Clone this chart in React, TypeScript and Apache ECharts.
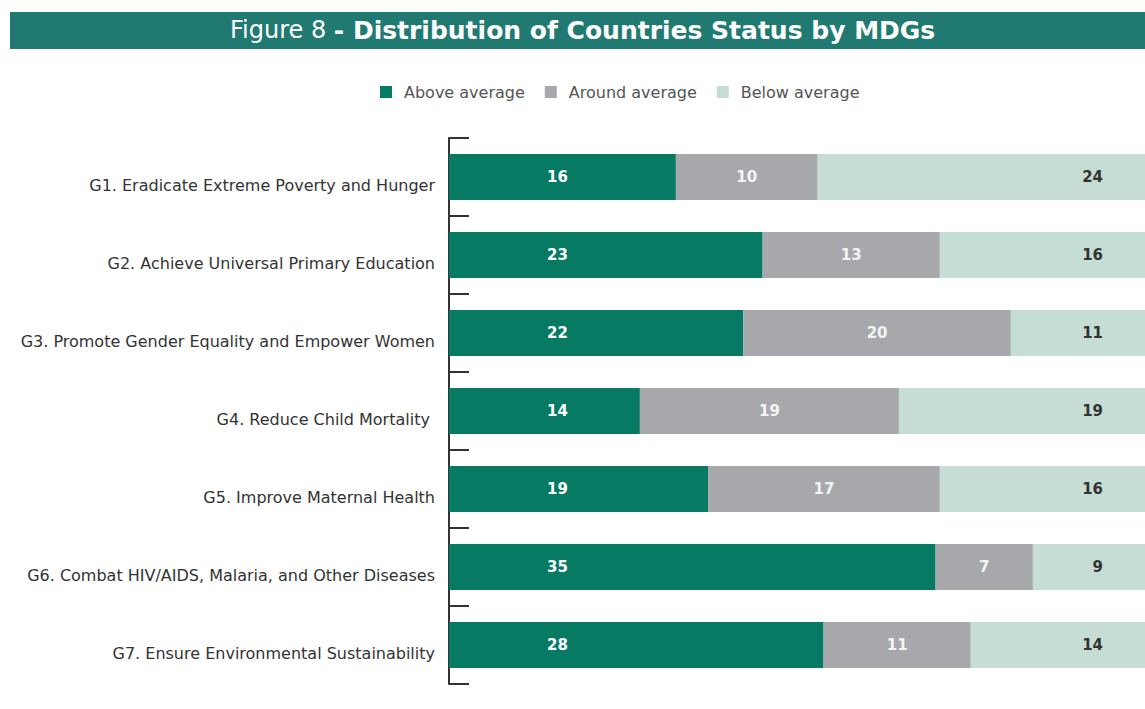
import React, { useEffect, useRef } from "react";
import * as echarts from "echarts";

const categories = [
  "G1. Eradicate Extreme Poverty and Hunger",
  "G2. Achieve Universal Primary Education",
  "G3. Promote Gender Equality and Empower Women",
  "G4. Reduce Child Mortality ",
  "G5. Improve Maternal Health",
  "G6. Combat HIV/AIDS, Malaria, and Other Diseases",
  "G7. Ensure Environmental Sustainability",
];
const seriesNames = ["Above average", "Around average", "Below average"];
const aboveAvg = [16, 23, 22, 14, 19, 35, 28];
const aroundAvg = [10, 13, 20, 19, 17, 7, 11];
const belowAvg = [24, 16, 11, 19, 16, 9, 14];

const COLORS = ["#067a62", "#a7a8ac", "#c5ddd4"];
const FONT = "'DejaVu Sans', 'Liberation Sans', Arial, sans-serif";

export default function App() {
  const ref = useRef<HTMLDivElement>(null);
  useEffect(() => {
    if (!ref.current) return;
    const chart = echarts.init(ref.current, null, { renderer: "svg" });
    const totals = categories.map((_, i) => aboveAvg[i] + aroundAvg[i] + belowAvg[i]);
    const toData = (arr: number[]) =>
      arr.map((v, i) => ({ value: (v / totals[i]) * 100, raw: v }));
    const fmt = (p: any) => String(p.data.raw);
    chart.setOption({
      animation: false,
      textStyle: { fontFamily: FONT },
      graphic: [
        {
          type: "rect",
          shape: { x: 10, y: 12, width: 1150, height: 37 },
          style: { fill: "#207a71" },
          z: 0,
        },
        {
          type: "text",
          x: 230,
          y: 30,
          style: {
            text: "{a|Figure 8 }{b|- Distribution of Countries Status by MDGs}",
            verticalAlign: "middle",
            rich: {
              a: { fontSize: 24, fill: "#ffffff", fontFamily: FONT, fontWeight: "normal" },
              b: { fontSize: 25, fill: "#ffffff", fontFamily: FONT, fontWeight: "bold" },
            },
          },
          z: 1,
        },
      ],
      legend: {
        left: 380,
        top: 84,
        padding: 0,
        itemWidth: 12,
        itemHeight: 12,
        itemGap: 20,
        icon: "rect",
        data: seriesNames,
        textStyle: { fontSize: 16, color: "#555", fontFamily: FONT, padding: [0, 0, 0, 7] },
      },
      grid: { left: 449, top: 138, width: 709, height: 546, containLabel: false },
      xAxis: { type: "value", min: 0, max: 100, show: false },
      yAxis: {
        type: "category",
        data: categories,
        inverse: true,
        axisLine: { show: true, lineStyle: { color: "#333", width: 2 } },
        axisTick: { show: true, inside: true, length: 20, lineStyle: { color: "#333", width: 2 } },
        axisLabel: { fontSize: 16, color: "#333", margin: 14, fontFamily: FONT, verticalAlign: "top" },
        splitLine: { show: false },
      },
      series: [
        {
          name: seriesNames[0],
          type: "bar",
          stack: "all",
          barWidth: 46,
          itemStyle: { color: COLORS[0] },
          data: toData(aboveAvg),
          label: {
            show: true,
            position: "insideLeft",
            distance: 98,
            formatter: fmt,
            color: "#fff",
            fontWeight: "bold",
            fontSize: 15,
            fontFamily: FONT,
          },
        },
        {
          name: seriesNames[1],
          type: "bar",
          stack: "all",
          barWidth: 46,
          itemStyle: { color: COLORS[1] },
          data: toData(aroundAvg),
          label: {
            show: true,
            position: "inside",
            formatter: fmt,
            color: "#f4f4f4",
            fontWeight: "bold",
            fontSize: 15,
            fontFamily: FONT,
          },
        },
        {
          name: seriesNames[2],
          type: "bar",
          stack: "all",
          barWidth: 46,
          itemStyle: { color: COLORS[2] },
          data: toData(belowAvg),
          label: {
            show: true,
            position: "insideRight",
            distance: 55,
            formatter: fmt,
            color: "#333",
            fontWeight: "bold",
            fontSize: 15,
            fontFamily: FONT,
          },
        },
      ],
    });
    return () => chart.dispose();
  }, []);
  return (
    <div style={{ position: "fixed", left: 0, top: 0, width: 1145, height: 709, overflow: "hidden", background: "#fff" }}>
      <div ref={ref} style={{ width: 1160, height: 709 }} />
    </div>
  );
}
